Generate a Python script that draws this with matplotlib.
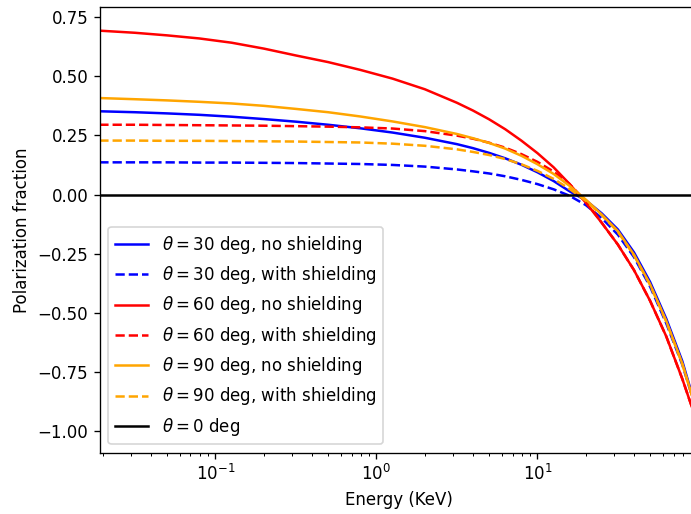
import numpy as np
import matplotlib
matplotlib.use("Agg")
import matplotlib.pyplot as plt

# energy grid (KeV)
energy = [0.019, 0.0316, 0.0501, 0.0794, 0.126, 0.2, 0.316, 0.501, 0.794,
          1.26, 2.0, 3.16, 3.98, 5.01, 6.31, 7.94, 10.0, 12.6, 15.8,
          20.0, 25.1, 31.6, 39.8, 50.1, 63.1, 79.4, 91.2]

# polarization fraction per case
p30_noshield = [0.352, 0.348, 0.343, 0.337, 0.329, 0.319, 0.308, 0.295, 0.280,
                0.262, 0.240, 0.213, 0.196, 0.176, 0.153, 0.126, 0.094, 0.057, 0.014,
                -0.025, -0.080, -0.148, -0.245, -0.370, -0.525, -0.705, -0.845]
p30_shield = [0.136, 0.136, 0.136, 0.135, 0.135, 0.134, 0.133, 0.131, 0.129,
              0.125, 0.118, 0.106, 0.098, 0.089, 0.077, 0.062, 0.044, 0.022, -0.005,
              -0.045, -0.100, -0.170, -0.265, -0.390, -0.545, -0.720, -0.852]
p60_noshield = [0.693, 0.684, 0.673, 0.660, 0.642, 0.617, 0.588, 0.560, 0.527,
                0.490, 0.445, 0.388, 0.355, 0.318, 0.276, 0.228, 0.175, 0.115, 0.045,
                -0.035, -0.120, -0.212, -0.320, -0.450, -0.600, -0.780, -0.900]
p60_shield = [0.295, 0.295, 0.294, 0.293, 0.292, 0.291, 0.289, 0.287, 0.284,
              0.279, 0.268, 0.249, 0.236, 0.219, 0.198, 0.171, 0.138, 0.097, 0.045,
              -0.030, -0.120, -0.212, -0.320, -0.450, -0.600, -0.780, -0.900]
p90_noshield = [0.408, 0.403, 0.398, 0.392, 0.385, 0.375, 0.362, 0.348, 0.330,
                0.309, 0.285, 0.256, 0.238, 0.218, 0.194, 0.164, 0.128, 0.087, 0.037,
                -0.022, -0.085, -0.155, -0.255, -0.380, -0.535, -0.715, -0.850]
p90_shield = [0.228, 0.228, 0.227, 0.227, 0.226, 0.225, 0.224, 0.222, 0.220,
              0.215, 0.206, 0.191, 0.180, 0.167, 0.150, 0.128, 0.100, 0.066, 0.024,
              -0.027, -0.088, -0.158, -0.258, -0.383, -0.538, -0.718, -0.852]

fig = plt.figure(figsize=(691/120, 514/120), dpi=120)
# right edge sits just past the picture, like the cropped original
ax = fig.add_axes([100/691, 61.3/514, 597/691, 445.7/514])

ax.plot(energy, p30_noshield, color='blue', label=r'$\theta=30$ deg, no shielding')
ax.plot(energy, p30_shield, color='blue', linestyle='--', label=r'$\theta=30$ deg, with shielding')
ax.plot(energy, p60_noshield, color='red', label=r'$\theta=60$ deg, no shielding')
ax.plot(energy, p60_shield, color='red', linestyle='--', label=r'$\theta=60$ deg, with shielding')
ax.plot(energy, p90_noshield, color='orange', label=r'$\theta=90$ deg, no shielding')
ax.plot(energy, p90_shield, color='orange', linestyle='--', label=r'$\theta=90$ deg, with shielding')
ax.axhline(0, color='black', linewidth=1.5, label=r'$\theta=0$ deg')

ax.set_xscale('log')
ax.set_xlim(10**-1.717, 10**1.991)
ax.set_ylim(-1.092, 0.793)
ax.set_yticks([-1.0, -0.75, -0.5, -0.25, 0.0, 0.25, 0.5, 0.75])
ax.set_xlabel('Energy (KeV)')
ax.set_ylabel('Polarization fraction')
ax.legend(loc='lower left')

fig.savefig('out.png', dpi=120)
